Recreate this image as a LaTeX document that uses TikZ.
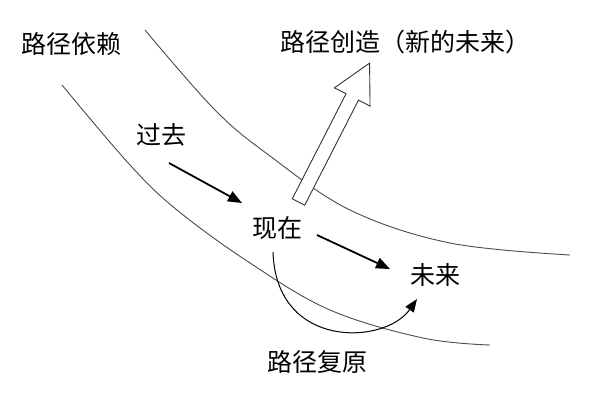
\documentclass[tikz,border=0pt]{standalone}
\usepackage{fontspec}
\newfontfamily\cjk{Noto Sans CJK SC}
\usetikzlibrary{arrows.meta}
\begin{document}
\begin{tikzpicture}[x=1pt,y=1pt,
  lbl/.style={font=\cjk\fontsize{25}{25}\selectfont, inner sep=0pt},
  curve/.style={draw=black!70, line width=0.9pt},
  flow/.style={line width=1.8pt, -{Triangle[length=14pt,width=11pt]}},
  hollow/.style={draw=black!80, line width=0.9pt, fill=white}]
\useasboundingbox (0,0) rectangle (600,400);
\fill[white] (0,0) rectangle (600,400);
% boundary curves
\draw[curve] plot[smooth, tension=0.6] coordinates {(145,370) (215,290) (270,244) (350,190) (450,157) (570,145)};
\draw[curve] plot[smooth, tension=0.6] coordinates {(62,315) (130,235) (177,190) (250,137) (330,90) (423,62) (490,55)};
% labels
\node[lbl] (dep) at (71,356) {路径依赖};
\node[lbl] (cre) at (405,358) {路径创造（新的未来）};
\node[lbl] (past) at (161,265) {过去};
\node[lbl] (now) at (277,172) {现在};
\node[lbl] (fut) at (435,125) {未来};
\node[lbl] (rec) at (317,38) {路径复原};
% flow arrows
\coordinate (p1) at (169,237);
\coordinate (p2) at (242,197);
\coordinate (n1) at (317,165);
\coordinate (n2) at (390,131);
\draw[flow] (p1) -- (p2);
\draw[flow] (n1) -- (n2);
% recovery curve
\coordinate (r0) at (273,148);
\coordinate (r1) at (417,101);
\draw[line width=1pt, -{Triangle[length=13pt,width=10pt]}] (r0) .. controls (276,50) and (385,55) .. (r1);
% hollow arrow
\begin{scope}[shift={(298.5,198)}, rotate=62.9]
\draw[hollow] (0,-7) -- (118,-7) -- (118,-20) -- (156,0) -- (118,20) -- (118,7) -- (0,7) -- cycle;
\end{scope}
\end{tikzpicture}
\end{document}
